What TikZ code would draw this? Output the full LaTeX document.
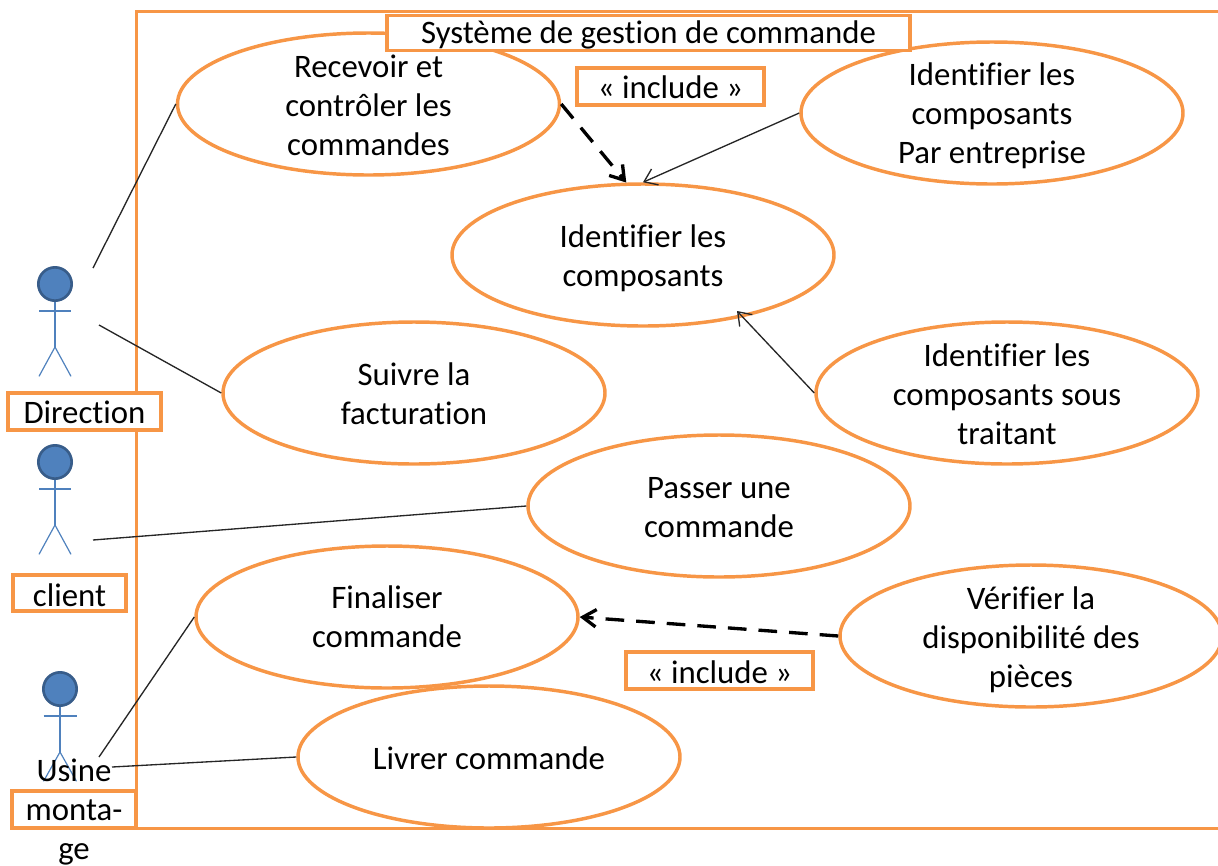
\documentclass[tikz,border=0pt]{standalone}
\usepackage{fontspec}
\setmainfont[Ligatures=NoCommon]{Carlito}
\usetikzlibrary{shapes.geometric,arrows.meta}
\definecolor{uOrange}{HTML}{F79646}
\definecolor{uBlue}{HTML}{4F81BD}
\definecolor{uDark}{HTML}{385D8A}
\tikzset{
  uctext/.style={align=center,inner sep=0pt,font=\fontsize{24.6}{29.25}\selectfont,text=black},
  usecase/.style={ellipse,draw=uOrange,line width=2.6pt,fill=white,minimum width=286.5pt,minimum height=106.5pt,inner sep=0pt},
  labelbox/.style={rectangle,draw=uOrange,line width=2.6pt,fill=white,inner sep=0pt},
  head/.style={circle,draw=uDark,line width=2pt,fill=uBlue,minimum size=25pt,inner sep=0pt},
  stick/.style={draw=uBlue,line width=0.9pt},
  assoc/.style={draw=black!85,line width=1pt},
  dep/.style={draw=black,line width=2.5pt,dash pattern=on 14pt off 9pt,-{Straight Barb[length=10pt,width=13pt,line width=2.5pt]}},
  gen/.style={draw=black!85,line width=1pt,-{Straight Barb[length=9pt,width=13pt,line width=1pt]}},
}
\newcommand{\actor}[4]{% name, x, head y, half width
  \node[head] (#1) at (#2,#3) {};
  \coordinate (#1hip) at (#2,#3+63);
  \coordinate (#1neck) at (#2,#3+27);
  \draw[stick] (#1.south) -- (#1hip);
  \draw[stick] ([xshift=-#4*0.75pt]#1neck) -- ([xshift=#4*0.75pt]#1neck);
  \draw[stick] ([xshift=-#4*0.75pt,yshift=-22pt]#1hip) -- (#1hip) -- ([xshift=#4*0.75pt,yshift=-22pt]#1hip);
}
\begin{document}
\begin{tikzpicture}[x=0.75pt,y=-0.75pt]
\useasboundingbox (0,0) rectangle (1218,865);
\clip (0,0) rectangle (1218,865);
% frame
\node[rectangle,draw=uOrange,line width=2.6pt,minimum width=818pt,minimum height=612.75pt,inner sep=0pt,anchor=north west] (frame) at (134.5,10) {};
% actors
\actor{dirA}{55}{284}{16}
\actor{cliA}{55}{462}{16}
\actor{usiA}{60}{689}{16.5}
% free ends
\coordinate (d1) at (93,268);
\coordinate (d2) at (99,325);
\coordinate (c1) at (93,540);
\coordinate (u1) at (99,757);
\coordinate (u2) at (112,767);
% use cases
\node[usecase,label={[uctext,yshift=-0.75pt]center:Recevoir et\\contrôler les\\commandes}] (e1) at (368.5,104) {};
\node[usecase,label={[uctext,yshift=-2.4pt]center:Identifier les\\composants\\Par entreprise}] (e2) at (992,113) {};
\node[usecase,label={[uctext,yshift=-2.25pt]center:Identifier les\\composants}] (e3) at (643,255) {};
\node[usecase,label={[uctext,yshift=-0.75pt]center:Suivre la\\facturation}] (e4) at (414,393) {};
\node[usecase,label={[uctext,yshift=-0.75pt]center:Identifier les\\composants sous\\traitant}] (e5) at (1007,393) {};
\node[usecase,label={[uctext,yshift=-1.5pt]center:Passer une\\commande}] (e6) at (719,506) {};
\node[usecase,label={[uctext]center:Finaliser\\commande}] (e7) at (387,617) {};
\node[usecase,label={[uctext,yshift=-3pt]center:Vérifier la\\disponibilité des\\pièces}] (e8) at (1031,636) {};
\node[usecase,label={[uctext,yshift=-0.75pt]center:Livrer commande}] (e9) at (489,757) {};
% label boxes
\node[labelbox,minimum width=392pt,minimum height=26pt,label={[uctext,yshift=-1.5pt]center:Système de gestion de commande}] (title) at (648.5,33) {};
\node[labelbox,minimum width=140pt,minimum height=27.5pt,label={[uctext,yshift=-0.75pt]center:« include »}] (inc1) at (670.5,86.5) {};
\node[labelbox,minimum width=140pt,minimum height=27.5pt,label={[uctext,yshift=-1.5pt]center:« include »}] (inc2) at (719.5,670.5) {};
\node[labelbox,minimum width=115pt,minimum height=27.5pt,label={[uctext,yshift=-0.75pt]center:Direction}] (dirL) at (84.5,411.5) {};
\node[labelbox,minimum width=85pt,minimum height=27pt,label={[uctext,yshift=-1.5pt]center:client}] (cliL) at (69.5,593) {};
\node[rectangle,draw=uOrange,line width=2.6pt,minimum width=93pt,minimum height=27.5pt,inner sep=0pt] (usiL) at (74,809.5) {};
\node[uctext] (usiT) at (74,812.5) {Usine\\monta-\\ge};
% connectors
\draw[assoc] (d1) -- (e1.west);
\draw[assoc] (d2) -- (e4.west);
\draw[assoc] (c1) -- (e6.west);
\draw[assoc] (u1) -- (e7.west);
\draw[assoc] (u2) -- (e9.west);
\draw[gen] (e2.west) -- (e3.north);
\coordinate (e3se) at (737,311);
\draw[gen] (e5.west) -- (e3se);
\draw[dep] (e1.east) -- (e3.103);
\draw[dep] (e8.west) -- (e7.east);
\end{tikzpicture}
\end{document}
